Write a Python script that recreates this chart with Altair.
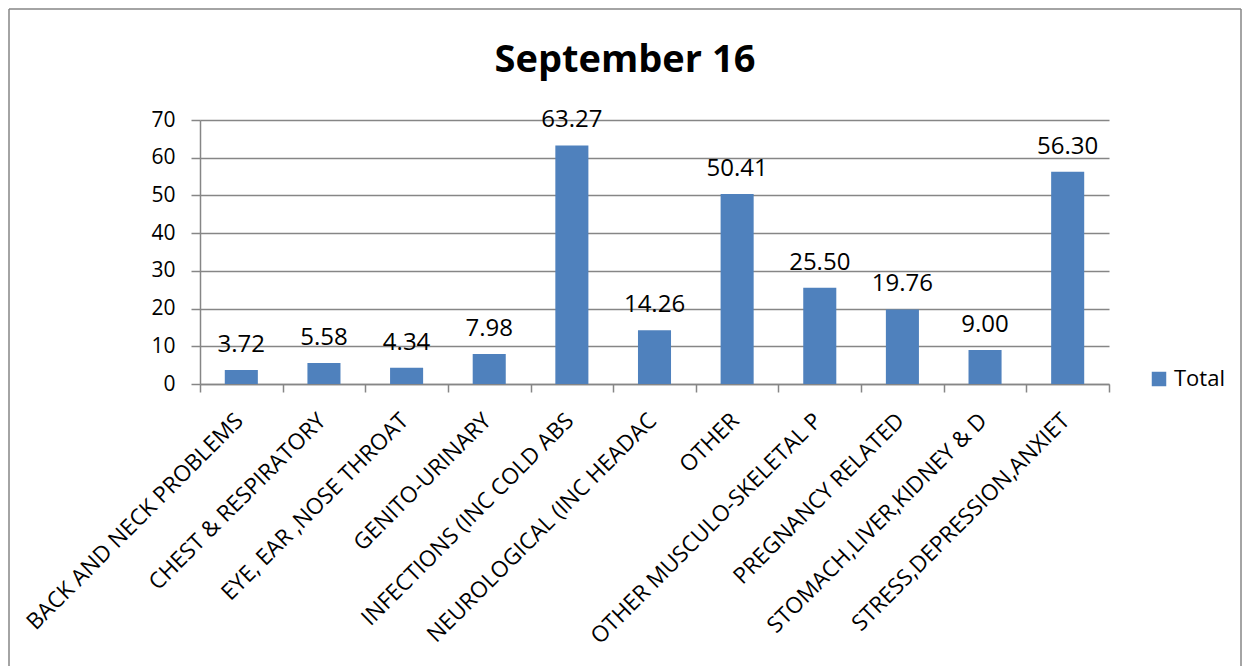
import altair as alt
import pandas as pd

categories = [
    "BACK AND NECK PROBLEMS",
    "CHEST & RESPIRATORY",
    "EYE, EAR ,NOSE THROAT",
    "GENITO-URINARY",
    "INFECTIONS (INC COLD ABS",
    "NEUROLOGICAL (INC HEADAC",
    "OTHER",
    "OTHER MUSCULO-SKELETAL P",
    "PREGNANCY RELATED",
    "STOMACH,LIVER,KIDNEY & D",
    "STRESS,DEPRESSION,ANXIET",
]
values = [3.72, 5.58, 4.34, 7.98, 63.27, 14.26, 50.41, 25.50, 19.76, 9.00, 56.30]
series_name = "Total"
y_ticks = [0, 10, 20, 30, 40, 50, 60, 70]
title_text = "September 16"

FONT = "Open Sans"
GRAY = "#868686"
BLUE = "#4F81BD"

df = pd.DataFrame({
    "category": categories,
    "value": values,
    "series": [series_name] * len(categories),
    "label": [f"{v:.2f}" for v in values],
})

W, H = 909, 264

x_enc = alt.X(
    "category:N",
    sort=categories,
    title=None,
    scale=alt.Scale(paddingInner=0, paddingOuter=0),
    axis=alt.Axis(
        labelAngle=-45,
        labelFontSize=22.5,
        labelFont=FONT,
        labelColor="black",
        labelPadding=17,
        labelOffset=-10,
        labelLimit=0,
        labelOverlap=False,
        tickBand="extent",
        tickSize=8,
        tickColor=GRAY,
        tickWidth=1.5,
        domainColor=GRAY,
        domainWidth=1.5,
        grid=False,
    ),
)
y_enc = alt.Y(
    "value:Q",
    title=None,
    scale=alt.Scale(domain=[0, 70], nice=False),
    axis=alt.Axis(
        values=y_ticks,
        tickCount=8,
        labelOverlap=False,
        labelFontSize=21,
        labelFont=FONT,
        labelColor="black",
        labelPadding=16,
        tickSize=9,
        tickColor=GRAY,
        tickWidth=1.5,
        domainColor=GRAY,
        domainWidth=1.5,
        gridColor=GRAY,
        gridWidth=1.5,
        grid=True,
    ),
)

bars = alt.Chart(df).mark_bar(width=alt.RelativeBandSize(0.4)).encode(
    x=x_enc,
    y=y_enc,
    color=alt.Color(
        "series:N",
        scale=alt.Scale(domain=[series_name], range=[BLUE]),
        legend=alt.Legend(
            title=None,
            orient="none",
            legendX=948,
            legendY=248,
            symbolType="square",
            symbolSize=210,
            symbolStrokeWidth=0,
            labelFontSize=22,
            labelFont=FONT,
            labelColor="black",
            labelOffset=4,
        ),
    ),
)

labels = alt.Chart(df).mark_text(
    baseline="alphabetic", dy=-18, fontSize=24, font=FONT, color="black"
).encode(x=x_enc, y=y_enc, text="label:N")

frame_df = pd.DataFrame({"k": [0]})
left_edge = alt.Chart(frame_df).mark_rule(color=GRAY, strokeWidth=1.5).encode(
    x=alt.value(-191), y=alt.value(-111), y2=alt.value(547)
)
top_edge = alt.Chart(frame_df).mark_rule(color=GRAY, strokeWidth=1.5).encode(
    x=alt.value(-191), x2=alt.value(1041), y=alt.value(-111)
)
right_edge = alt.Chart(frame_df).mark_rule(color=GRAY, strokeWidth=1.5).encode(
    x=alt.value(1041), y=alt.value(-111), y2=alt.value(547)
)

chart = alt.layer(bars, labels, left_edge, top_edge, right_edge).properties(
    width=W,
    height=H,
    title=alt.TitleParams(
        title_text, fontSize=38, font=FONT, fontWeight="bold", color="black",
        anchor="middle", frame="bounds", offset=-72,
    ),
    padding={"left": 8, "top": 8, "right": 0, "bottom": 0},
    background="white",
).configure_view(stroke=None)

chart.save("out.html", embed_options={"renderer": "svg", "actions": False})
